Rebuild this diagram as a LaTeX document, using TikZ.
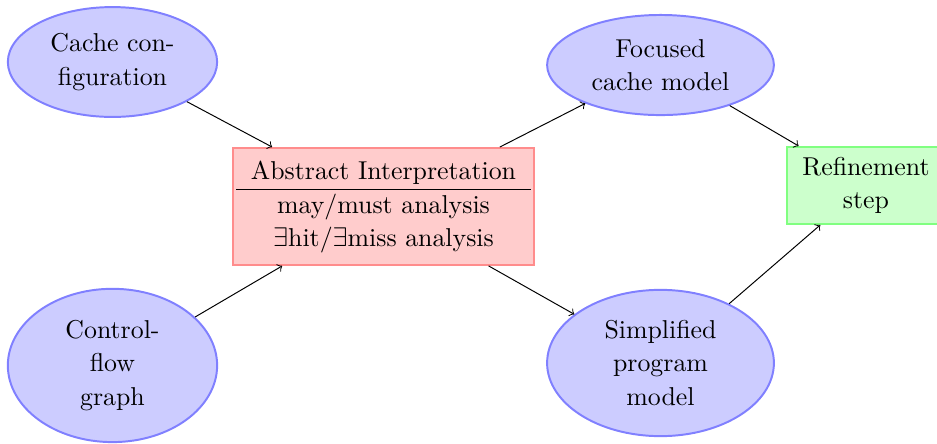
\documentclass[tikz,border=0pt]{standalone}
\usepackage{amssymb}
\usetikzlibrary{shapes.geometric}

\begin{document}
\begin{tikzpicture}[
  every node/.style={font=\fontsize{10.5}{13.5}\selectfont},
  blob/.style={ellipse, draw=blue!50, fill=blue!20, thick, align=center, inner sep=0pt},
  absbox/.style={rectangle, draw=red!45, fill=red!20, thick, inner sep=0pt},
  refbox/.style={rectangle, draw=green!50, fill=green!20, thick, align=center, inner sep=0pt}
]
% Marco de la figura
\useasboundingbox (0,0) rectangle (13.386,-6.329);

% Entradas del analisis
\node [blob, minimum width=2.99cm, minimum height=1.57cm] (cacheconf) at (1.607,-0.886) {Cache con-\\figuration};
\node [blob, minimum width=2.99cm, minimum height=2.19cm] (cfg) at (1.607,-5.221) {Control-\\flow\\graph};

% Interpretacion abstracta
\node [absbox, minimum width=4.30cm, minimum height=1.67cm] (absint) at (5.479,-2.95)
  {\begin{tabular}{c}
   Abstract Interpretation\\ \hline
   may/must analysis\\
   $\exists$hit/$\exists$miss analysis
   \end{tabular}};

% Salidas del analisis
\node [blob, minimum width=3.24cm, minimum height=1.43cm] (focused) at (9.436,-0.929) {Focused\\cache model};
\node [blob, minimum width=3.24cm, minimum height=2.09cm] (simplified) at (9.436,-5.186) {Simplified\\program\\model};

% Paso de refinamiento
\node [refbox, minimum width=2.26cm, minimum height=1.1cm] (refine) at (12.371,-2.65) {Refinement\\step};

% Flechas
\draw [->] (cacheconf) -- (absint);
\draw [->] (cfg) -- (absint);
\draw [->] (absint) -- (focused);
\draw [->] (absint) -- (simplified);
\draw [->] (focused) -- (refine);
\draw [->] (simplified) -- (refine);
\end{tikzpicture}
\end{document}
